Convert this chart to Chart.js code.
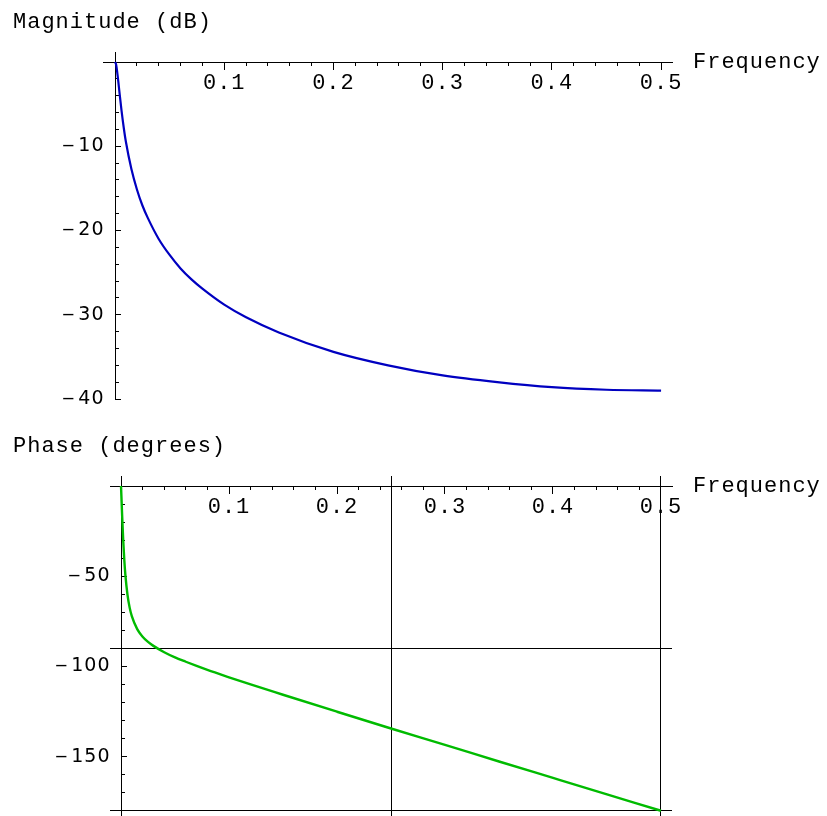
<!DOCTYPE html>
<html>
<head>
<meta charset="utf-8">
<title>Magnitude and phase</title>
<script src="https://cdn.jsdelivr.net/npm/chart.js@4.4.0/dist/chart.umd.min.js"></script>
<style>
  html, body { margin: 0; padding: 0; background: #fff; }
  .panel { position: relative; width: 827px; height: 408px; }
</style>
</head>
<body>
<div class="panel"><canvas id="magChart"></canvas></div>
<div class="panel"><canvas id="phaseChart"></canvas></div>
<script>
// Values
const frequency = [0, 0.001, 0.002, 0.003, 0.004, 0.006, 0.008, 0.01, 0.015, 0.02, 0.025, 0.03,
  0.04, 0.05, 0.06, 0.07, 0.08, 0.1, 0.12, 0.15, 0.2, 0.25, 0.3, 0.35, 0.4, 0.45, 0.5];
const magnitudeDb = [0, -0.3, -1.2, -2.3, -3.5, -5.8, -7.8, -9.5, -12.7, -15.1, -17.0, -18.5,
  -21.0, -22.9, -24.5, -25.8, -26.9, -28.8, -30.3, -32.1, -34.4, -36.0, -37.2, -38.0, -38.6, -38.9, -39.0];
const phaseDeg = [0, -15.8, -29.6, -40.6, -49.0, -60.3, -67.4, -72.1, -79.3, -83.5, -86.4, -88.6,
  -92.1, -95.0, -97.4, -99.7, -101.9, -106.0, -110.0, -115.7, -125.1, -134.4, -143.5, -152.7, -161.8, -170.9, -180];

const freqTicks = [0.1, 0.2, 0.3, 0.4, 0.5];
const magTicks = [-10, -20, -30, -40];
const phaseTicks = [-50, -100, -150];
const phaseGridX = [0.25, 0.5];
const phaseGridY = [-90, -180];

const black = '#000';
const monoFont = { family: "'Liberation Mono', 'Courier New', monospace", size: 22 };
const sansFont = { family: "'DejaVu Sans', sans-serif", size: 19 };

function fixedTicks(values) {
  return scale => { scale.ticks = values.map(v => ({ value: v })); };
}

// keep label overflow from eating into the chart area
function noPadding(scale) {
  scale.paddingLeft = scale.paddingRight = scale.paddingTop = scale.paddingBottom = 0;
}

function majorX(min, max, values) {
  return {
    type: 'linear', min, max, position: { y: 0 },
    afterBuildTicks: fixedTicks(values),
    afterFit: noPadding,
    grid: { display: true, drawOnChartArea: false, drawTicks: true, tickLength: 7, tickColor: black },
    border: { display: true, color: black, width: 1 },
    ticks: { color: black, font: monoFont, padding: 1, maxRotation: 0, autoSkip: false,
      callback: v => v.toFixed(1) }
  };
}

function minorX(min, max, step) {
  return {
    type: 'linear', min, max, position: { y: 0 },
    afterFit: noPadding,
    grid: { display: true, drawOnChartArea: false, drawTicks: true, tickLength: 4, tickColor: black },
    border: { display: false },
    ticks: { display: false, stepSize: step, includeBounds: false, autoSkip: false }
  };
}

function majorY(min, max, values) {
  return {
    type: 'linear', min, max, position: { x: 0 },
    afterBuildTicks: fixedTicks(values),
    afterFit: noPadding,
    grid: { display: true, drawOnChartArea: false, drawTicks: true, tickLength: -6, tickColor: black },
    border: { display: true, color: black, width: 1 },
    ticks: { color: black, font: sansFont, autoSkip: false,
      callback: v => '\u2012\u200a' + Math.abs(v) + '\u2002' }
  };
}

function minorY(min, max, step) {
  return {
    type: 'linear', min, max, position: { x: 0 },
    afterFit: noPadding,
    grid: { display: true, drawOnChartArea: false, drawTicks: true, tickLength: -4, tickColor: black },
    border: { display: false },
    ticks: { display: false, stepSize: step, includeBounds: false, autoSkip: false }
  };
}

function gridScale(min, max, values, axisPos) {
  return {
    type: 'linear', min, max, position: axisPos,
    afterBuildTicks: fixedTicks(values),
    afterFit: noPadding,
    grid: { display: true, drawOnChartArea: true, drawTicks: false, color: black, lineWidth: 1 },
    border: { display: false },
    ticks: { display: false }
  };
}

// Axis titles drawn next to the axes, Mathematica style
const axisTitles = {
  id: 'axisTitles',
  beforeDraw(chart) {
    chart.ctx.letterSpacing = '1px';
  },
  afterDraw(chart, args, opts) {
    const { ctx, chartArea, scales } = chart;
    ctx.save();
    ctx.font = "22px 'Liberation Mono', 'Courier New', monospace";
    ctx.fillStyle = black;
    ctx.textAlign = 'left';
    ctx.textBaseline = 'alphabetic';
    ctx.fillText(opts.yTitle, 13, chartArea.top - 24);
    ctx.fillText(opts.xTitle, chartArea.right + 21, scales.y.getPixelForValue(0) + 6);
    ctx.restore();
  }
};

function points(ys) {
  return frequency.map((f, i) => ({ x: f, y: ys[i] }));
}

const baseOptions = {
  responsive: true,
  maintainAspectRatio: false,
  animation: false,
  events: [],
  plugins: { legend: { display: false }, tooltip: { enabled: false } }
};

new Chart(document.getElementById('magChart'), {
  type: 'line',
  data: {
    datasets: [{
      data: points(magnitudeDb),
      borderColor: '#0000c0',
      borderWidth: 2.2,
      pointRadius: 0,
      cubicInterpolationMode: 'monotone',
      fill: false
    }]
  },
  options: {
    ...baseOptions,
    layout: { autoPadding: false, padding: { left: 103, right: 155, top: 52, bottom: 9 } },
    scales: {
      x: majorX(-0.011, 0.51, freqTicks),
      xMinor: minorX(-0.011, 0.51, 0.02),
      y: majorY(-40, 1.19, magTicks),
      yMinor: minorY(-40, 1.19, 2)
    },
    plugins: {
      ...baseOptions.plugins,
      axisTitles: { xTitle: 'Frequency', yTitle: 'Magnitude (dB)' }
    }
  },
  plugins: [axisTitles]
});

new Chart(document.getElementById('phaseChart'), {
  type: 'line',
  data: {
    datasets: [{
      data: points(phaseDeg),
      borderColor: '#00bb00',
      borderWidth: 2.4,
      pointRadius: 0,
      cubicInterpolationMode: 'monotone',
      fill: false
    }]
  },
  options: {
    ...baseOptions,
    layout: { autoPadding: false, padding: { left: 110, right: 155, top: 68, bottom: 0 } },
    scales: {
      xGrid: gridScale(-0.0102, 0.5102, phaseGridX, { y: 0 }),
      yGrid: gridScale(-182.9, 5.56, phaseGridY, { x: 0 }),
      x: majorX(-0.0102, 0.5102, freqTicks),
      xMinor: minorX(-0.0102, 0.5102, 0.02),
      y: majorY(-182.9, 5.56, phaseTicks),
      yMinor: minorY(-182.9, 5.56, 10)
    },
    plugins: {
      ...baseOptions.plugins,
      axisTitles: { xTitle: 'Frequency', yTitle: 'Phase (degrees)' }
    }
  },
  plugins: [axisTitles]
});
</script>
</body>
</html>
